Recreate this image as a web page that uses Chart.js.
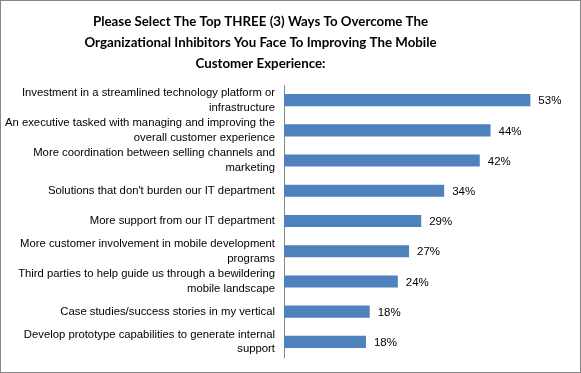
<!DOCTYPE html>
<html>
<head>
<meta charset="utf-8">
<script src="https://cdn.jsdelivr.net/npm/chart.js@4/dist/chart.umd.min.js"></script>
<style>
  html, body { margin: 0; padding: 0; background: #ffffff; }
  canvas { display: block; }
</style>
</head>
<body>
<canvas id="c" width="581" height="373"></canvas>
<script>
const titleLines = [
  "Please Select The Top THREE (3) Ways To Overcome The",
  "Organizational Inhibitors You Face To Improving The Mobile",
  "Customer Experience:"
];
const categories = [
  ["Investment in a streamlined technology platform or", "infrastructure"],
  ["An executive tasked with managing and improving the", "overall customer experience"],
  ["More coordination between selling channels and", "marketing"],
  "Solutions that don't burden our IT department",
  "More support from our IT department",
  ["More customer involvement in mobile development", "programs"],
  ["Third parties to help guide us through a bewildering", "mobile landscape"],
  "Case studies/success stories in my vertical",
  ["Develop prototype capabilities to generate internal", "support"]
];
const values = [52.6, 44.1, 41.8, 34.2, 29.3, 26.7, 24.3, 18.3, 17.5];
const valueLabels = ["53%", "44%", "42%", "34%", "29%", "27%", "24%", "18%", "18%"];

const frameAndTitle = {
  id: 'frameAndTitle',
  afterLayout(chart) {
    const t = chart.titleBlock;
    if (t) { t.left = 0; t.right = 521; }
  },
  beforeDraw(chart) {
    const ctx = chart.ctx;
    ctx.save();
    ctx.fillStyle = '#ffffff';
    ctx.fillRect(0, 0, chart.width, chart.height);
    ctx.restore();
  },
  afterDraw(chart) {
    const ctx = chart.ctx;
    ctx.save();
    ctx.strokeStyle = '#868686';
    ctx.lineWidth = 1;
    ctx.strokeRect(0.5, 0.5, chart.width - 1, chart.height - 1);
    ctx.restore();
  }
};

const barValueLabels = {
  id: 'barValueLabels',
  afterDatasetsDraw(chart) {
    const ctx = chart.ctx;
    const meta = chart.getDatasetMeta(0);
    ctx.save();
    ctx.font = '11.5px "Liberation Sans", Arial, sans-serif';
    ctx.fillStyle = '#000000';
    ctx.textAlign = 'left';
    ctx.textBaseline = 'middle';
    meta.data.forEach((el, i) => {
      ctx.fillText(valueLabels[i], el.x + 8, el.y + 1);
    });
    ctx.restore();
  }
};

new Chart(document.getElementById('c'), {
  type: 'bar',
  data: {
    labels: categories,
    datasets: [{
      data: values,
      backgroundColor: '#4F81BD',
      borderWidth: 0,
      categoryPercentage: 0.8,
      barPercentage: 0.5
    }]
  },
  options: {
    indexAxis: 'y',
    responsive: false,
    animation: false,
    devicePixelRatio: 1,
    layout: { padding: { left: 0, right: 16, top: 0, bottom: 16 } },
    plugins: {
      legend: { display: false },
      tooltip: { enabled: false },
      title: {
        display: true,
        text: titleLines,
        color: '#000000',
        font: { family: 'Lato, "Liberation Sans", Arial, sans-serif', size: 13.3, weight: 'bold', lineHeight: 1.579 },
        padding: { top: 11.5, bottom: 10.5 }
      }
    },
    scales: {
      x: {
        display: false,
        min: 0,
        max: 60
      },
      y: {
        afterFit(scale) { scale.width = 284; scale.paddingTop = 0; scale.paddingBottom = 0; },
        grid: { display: false, drawTicks: false },
        border: { display: true, color: '#868686', width: 1 },
        ticks: {
          autoSkip: false,
          padding: 9,
          color: '#000000',
          font: { family: '"Liberation Sans", Arial, sans-serif', size: 11.3, lineHeight: 1.3 }
        }
      }
    }
  },
  plugins: [frameAndTitle, barValueLabels]
});
</script>
</body>
</html>
